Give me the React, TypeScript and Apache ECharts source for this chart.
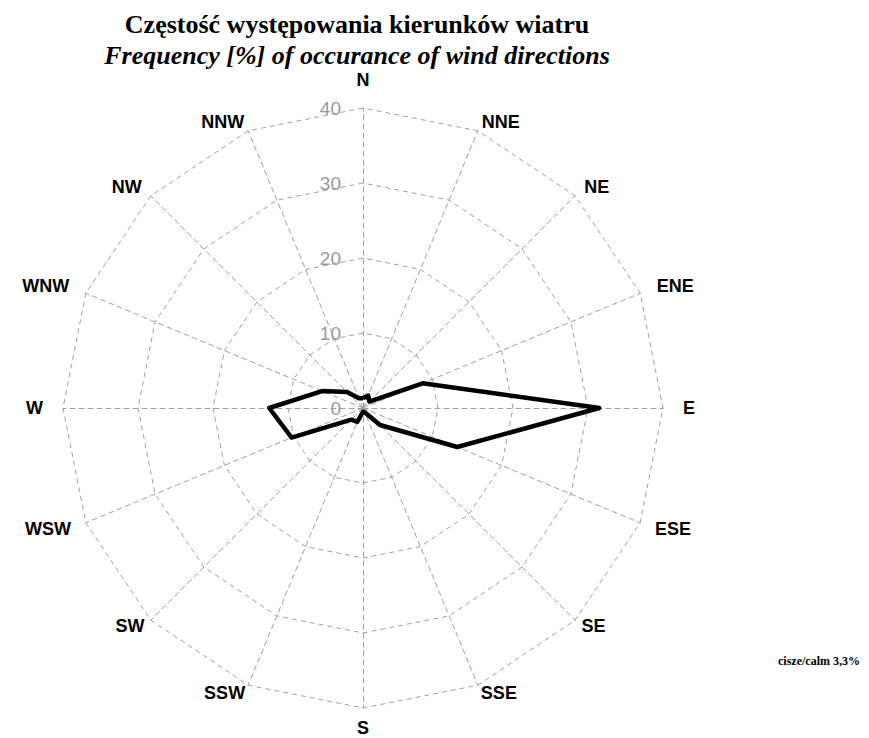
import React, { useEffect, useRef } from "react";
import * as echarts from "echarts";

const directions = ["N", "NNE", "NE", "ENE", "E", "ESE", "SE", "SSE", "S", "SSW", "SW", "WSW", "W", "WNW", "NW", "NNW"];
const frequency = [1.3, 1.8, 1.2, 8.6, 31.5, 13.6, 3.2, 0.6, 0.5, 2.0, 2.2, 10.3, 12.5, 5.9, 3.0, 1.4];
const radiusTicks = [0, 10, 20, 30, 40];
const titleText = "Częstość występowania kierunków wiatru";
const subtitleText = "Frequency [%] of occurance of wind directions";
const calmText = "cisze/calm 3,3%";

export default function App() {
  const ref = useRef<HTMLDivElement>(null);
  useEffect(() => {
    if (!ref.current) return;
    const chart = echarts.init(ref.current, null, { renderer: "svg" });
    // per-direction label distance from the outer ring (layout only)
    const gapByDir: Record<string, number> = {
      N: 19, NNE: 10, NE: 13, ENE: 18, E: 20, ESE: 16, SE: 9, SSE: 8,
      S: 11, SSW: 8, SW: 9, WSW: 16, W: 20, WNW: 18, NW: 13, NNW: 10,
    };
    // ECharts radar goes counter-clockwise; reorder so directions run clockwise
    const order = [0, ...Array.from({ length: directions.length - 1 }, (_, i) => directions.length - 1 - i)];
    const maxV = radiusTicks[radiusTicks.length - 1];
    const indicator = order.map((i, k) => ({
      name: directions[i],
      max: maxV,
      min: 0,
      nameGap: gapByDir[directions[i]],
      ...(k === 0 ? { axisLabel: { show: true } } : {}),
    }));
    const values = order.map((i) => frequency[i]);
    chart.setOption({
      animation: false,
      title: [
        {
          text: titleText,
          left: 352,
          top: 6,
          textAlign: "center",
          textStyle: { fontFamily: "Liberation Serif", fontWeight: "bold", fontSize: 26, color: "#000" },
        },
        {
          text: subtitleText,
          left: 352,
          top: 37,
          textAlign: "center",
          textStyle: { fontFamily: "Liberation Serif", fontStyle: "italic", fontWeight: "bold", fontSize: 26, color: "#000" },
        },
        {
          text: calmText,
          right: 4,
          top: 650,
          textStyle: { fontFamily: "Liberation Serif", fontWeight: "bold", fontSize: 12, color: "#000" },
        },
      ],
      radar: {
        center: [363, 408],
        radius: 300,
        startAngle: 90,
        shape: "polygon",
        splitNumber: radiusTicks.length - 1,
        nameGap: 17,
        axisName: { color: "#000", fontFamily: "Liberation Sans", fontWeight: "bold", fontSize: 18 },
        axisLine: { show: true, lineStyle: { color: "#a0a0a0", type: [5, 4], width: 1 } },
        splitLine: { show: true, lineStyle: { color: "#a0a0a0", type: [5, 4], width: 1 } },
        splitArea: { show: false },
        axisTick: { show: false },
        axisLabel: {
          show: false,
          color: "#999",
          fontFamily: "Liberation Sans",
          fontSize: 19,
          margin: 22,
          padding: [0, 0, 8, 0],
        },
        indicator,
      },
      series: [
        {
          type: "radar",
          symbol: "none",
          lineStyle: { color: "#000", width: 4.5 },
          data: [{ value: values, name: "freq" }],
        },
      ],
    });
    return () => chart.dispose();
  }, []);
  return <div ref={ref} style={{ position: "fixed", left: 0, top: 0, width: 869, height: 738, background: "#fff" }} />;
}
